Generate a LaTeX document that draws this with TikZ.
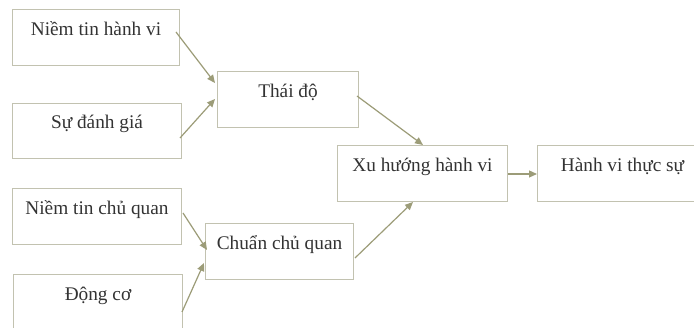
\documentclass[tikz,border=0pt]{standalone}
\usepackage{fontspec}
\setmainfont{Liberation Serif}
\usetikzlibrary{arrows.meta}
\definecolor{boxline}{HTML}{C2C2B0}
\definecolor{arrowc}{HTML}{9C9C78}
\definecolor{txt}{HTML}{333333}
\begin{document}
\begin{tikzpicture}[x=1pt,y=-1pt,
  box/.style={draw=boxline, line width=1pt, inner sep=0pt, anchor=north west, fill=white},
  lbl/.style={text=txt, font=\fontsize{19.3}{23}\selectfont, inner sep=0pt, anchor=base},
  arr/.style={draw=arrowc, line width=1.2pt, -{Triangle[length=8pt,width=7pt]}}]
\useasboundingbox (0,0) rectangle (694,328);
\clip (0,0) rectangle (694,328);
\fill[white] (0,0) rectangle (694,328);
% boxes
\node[box, minimum width=167pt, minimum height=56pt] (n1) at (12,9) {};
\node[box, minimum width=169pt, minimum height=55pt] (n2) at (12,103) {};
\node[box, minimum width=141pt, minimum height=56pt] (att) at (217,71) {};
\node[box, minimum width=169pt, minimum height=56pt] (n3) at (12,188) {};
\node[box, minimum width=169pt, minimum height=62pt] (n4) at (13,274) {};
\node[box, minimum width=148pt, minimum height=56pt] (sn) at (205,223) {};
\node[box, minimum width=170pt, minimum height=56pt] (xu) at (337,145) {};
\node[box, minimum width=170pt, minimum height=56pt] (hv) at (537,145) {};
% labels
\node[lbl] (t1) at ([yshift=-27pt]n1.north) {Niềm tin hành vi};
\node[lbl] (t2) at ([yshift=-26pt]n2.north) {Sự đánh giá};
\node[lbl] (t3) at ([yshift=-27pt]att.north) {Thái độ};
\node[lbl] (t4) at ([yshift=-27pt]n3.north) {Niềm tin chủ quan};
\node[lbl] (t5) at ([yshift=-27pt]n4.north) {Động cơ};
\node[lbl] (t6) at ([yshift=-27pt]sn.north) {Chuẩn chủ quan};
\node[lbl] (t7) at ([yshift=-27pt]xu.north) {Xu hướng hành vi};
\node[lbl] (t8) at ([yshift=-27pt]hv.north) {Hành vi thực sự};
% arrows
\draw[arr] ([xshift=-4pt,yshift=-23pt]n1.north east) -- ([xshift=-2pt,yshift=-12pt]att.north west);
\draw[arr] ([xshift=-2pt,yshift=-35pt]n2.north east) -- ([xshift=-2pt,yshift=-28pt]att.north west);
\draw[arr] ([xshift=-2pt,yshift=-25pt]att.north east) -- ([xshift=86pt]xu.north west);
\draw[arr] ([xshift=1pt,yshift=-25pt]n3.north east) -- ([xshift=2pt,yshift=-27pt]sn.north west);
\draw[arr] ([xshift=-1pt,yshift=-38pt]n4.north east) -- ([xshift=-1pt,yshift=-40pt]sn.north west);
\draw[arr] ([xshift=1pt,yshift=-35pt]sn.north east) -- ([xshift=76pt]xu.south west);
\draw[arr] ([yshift=-29pt]xu.north east) -- ([yshift=-29pt]hv.north west);
\end{tikzpicture}
\end{document}
